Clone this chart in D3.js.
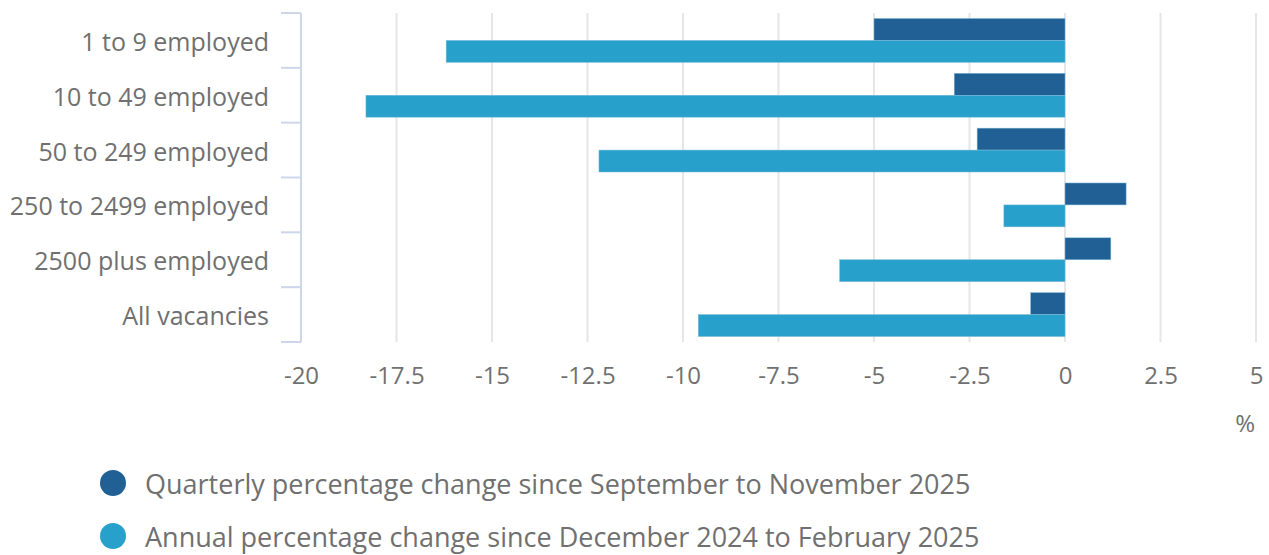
<!DOCTYPE html>
<html>
<head>
<meta charset="utf-8">
<script src="https://cdn.jsdelivr.net/npm/d3@7/dist/d3.min.js"></script>
<style>
  body { margin: 0; background: #fff; }
  text { font-family: "Open Sans", sans-serif; fill: #707070; }
</style>
</head>
<body>
<svg id="chart" width="1269" height="555"></svg>
<script>
var categories = ["1 to 9 employed", "10 to 49 employed", "50 to 249 employed",
                  "250 to 2499 employed", "2500 plus employed", "All vacancies"];
var seriesNames = ["Quarterly percentage change since September to November 2025",
                   "Annual percentage change since December 2024 to February 2025"];
var quarterly = [-5.0, -2.9, -2.3, 1.6, 1.2, -0.9];
var annual = [-16.2, -18.3, -12.2, -1.6, -5.9, -9.6];
var xTicks = [-20, -17.5, -15, -12.5, -10, -7.5, -5, -2.5, 0, 2.5, 5];
var COLORS = ["#206095", "#27a0cc"];

var svg = d3.select("#chart");

var x = d3.scaleLinear().domain([-20, 5]).range([301, 1256]);
var y0 = d3.scaleBand().domain(categories).range([13, 342]);
var y1 = d3.scaleBand().domain([0, 1]).range([0, y0.bandwidth()]).paddingOuter(0.25);

// vertical grid
svg.append("g")
  .selectAll("line")
  .data(xTicks)
  .enter()
  .append("line")
  .attr("x1", function(d) { return x(d); })
  .attr("x2", function(d) { return x(d); })
  .attr("y1", 13)
  .attr("y2", 342)
  .style("stroke", "#e6e6e6")
  .style("stroke-width", "2px");

// bars
var rows = categories.map(function(c, i) {
  return { cat: c, vals: [quarterly[i], annual[i]] };
});

var groups = svg.selectAll("g.row")
  .data(rows)
  .enter()
  .append("g")
  .attr("class", "row")
  .attr("transform", function(d) { return "translate(0 " + y0(d.cat) + ")"; });

groups.selectAll("rect")
  .data(function(d) { return d.vals; })
  .enter()
  .append("rect")
  .attr("x", function(d) { return x(Math.min(0, d)); })
  .attr("width", function(d) { return Math.abs(x(d) - x(0)); })
  .attr("y", function(d, i) { return y1(i); })
  .attr("height", y1.bandwidth())
  .attr("fill", function(d, i) { return COLORS[i]; })
  .attr("stroke", "#7fbad8")
  .attr("stroke-width", 0.5);

// y axis
var yAxis = svg.append("g")
  .attr("transform", "translate(301 0)")
  .call(d3.axisLeft(y0).tickSize(0).tickPadding(32));
yAxis.select(".domain").remove();
yAxis.selectAll("text")
  .style("font-size", "25px")
  .attr("dy", "0.42em")
  .attr("fill", "#707070");

svg.append("line")
  .attr("x1", 301).attr("x2", 301)
  .attr("y1", 13).attr("y2", 342)
  .style("stroke", "#cdd6ea").style("stroke-width", "2px");

svg.append("g")
  .selectAll("line")
  .data(categories.map(function(c) { return y0(c); }).concat([342]))
  .enter()
  .append("line")
  .attr("x1", 281).attr("x2", 301)
  .attr("y1", function(d) { return d; })
  .attr("y2", function(d) { return d; })
  .style("stroke", "#cdd6ea").style("stroke-width", "2px");

// x axis labels
var xAxis = svg.append("g")
  .attr("transform", "translate(0 350)")
  .call(d3.axisBottom(x).tickValues(xTicks).tickSize(0).tickPadding(17)
        .tickFormat(function(d) { return String(d); }));
xAxis.select(".domain").remove();
xAxis.selectAll("text").style("font-size", "24px").attr("fill", "#707070");

svg.append("text")
  .attr("x", 1255)
  .attr("y", 432)
  .attr("text-anchor", "end")
  .style("font-size", "24px")
  .text("%");

// legend
var legend = svg.selectAll("g.legend")
  .data(seriesNames)
  .enter()
  .append("g")
  .attr("class", "legend")
  .attr("transform", function(d, i) { return "translate(113 " + (483 + i * 53) + ")"; });

legend.append("circle")
  .attr("r", 13)
  .attr("fill", function(d, i) { return COLORS[i]; });

legend.append("text")
  .attr("x", 32)
  .attr("y", 11)
  .style("font-size", "27px")
  .text(function(d) { return d; });
</script>
</body>
</html>
